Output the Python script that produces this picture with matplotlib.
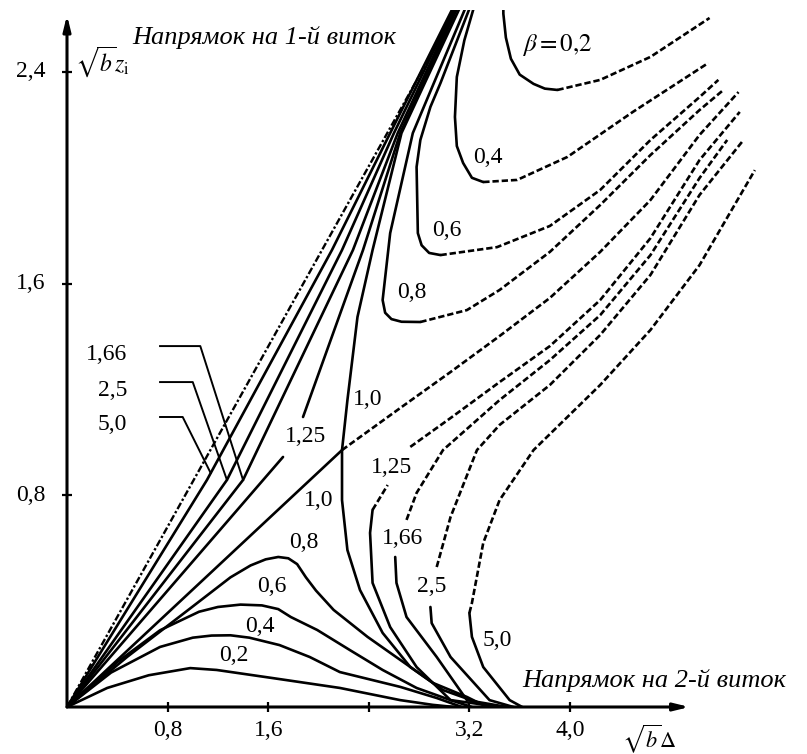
import matplotlib.pyplot as plt
import numpy as np

plt.rcParams['font.family'] = ['Liberation Serif', 'DejaVu Serif']
plt.rcParams['mathtext.fontset'] = 'stix'

# lower branches, beta < 1 (from the origin back to the sqrt(b)*Delta axis)
low_02 = [(0, 0), (0.32, 0.072), (0.65, 0.12), (0.98, 0.147), (1.19, 0.14), (1.64, 0.109),
          (2.17, 0.072), (2.65, 0.026), (2.91, 0.008), (3.08, 0)]
low_04 = [(0, 0), (0.35, 0.13), (0.74, 0.227), (1.0, 0.262), (1.15, 0.27), (1.3, 0.271),
          (1.45, 0.262), (1.69, 0.234), (1.93, 0.189), (2.17, 0.132), (2.65, 0.076),
          (2.94, 0.034), (3.14, 0)]
low_06 = [(0, 0), (0.4, 0.17), (0.74, 0.29), (1.05, 0.36), (1.2, 0.378), (1.38, 0.387),
          (1.55, 0.384), (1.68, 0.37), (1.78, 0.34), (1.99, 0.291), (2.25, 0.215),
          (2.51, 0.14), (2.78, 0.072), (3.05, 0.026), (3.22, 0)]
low_08 = [(0, 0), (0.48, 0.19), (1.0, 0.38), (1.3, 0.49), (1.46, 0.535), (1.58, 0.558),
          (1.68, 0.567), (1.76, 0.562), (1.83, 0.54), (1.9, 0.49), (1.98, 0.44), (2.12, 0.367),
          (2.39, 0.265), (2.65, 0.178), (2.91, 0.091), (3.18, 0.038), (3.34, 0)]

# upper branches, beta < 1: solid part from the top, dashed continuation
up_02 = [(3.47, 2.7), (3.47, 2.62), (3.49, 2.53), (3.53, 2.45), (3.6, 2.39), (3.71, 2.355),
         (3.8, 2.337), (3.9, 2.332)]
up_02d = [(3.9, 2.332), (4.24, 2.37), (4.64, 2.457), (5.11, 2.604)]
up_04 = [(3.27, 2.7), (3.16, 2.52), (3.1, 2.381), (3.085, 2.23), (3.1, 2.12), (3.15, 2.056),
         (3.22, 2.0), (3.31, 1.984)]
up_04d = [(3.31, 1.984), (3.58, 1.992), (3.98, 2.079), (4.5, 2.249), (5.1, 2.434)]
up_06 = [(3.25, 2.7), (2.97, 2.358), (2.89, 2.268), (2.81, 2.143), (2.78, 2.041),
         (2.79, 1.791), (2.82, 1.745), (2.88, 1.716), (2.97, 1.708)]
up_06d = [(2.97, 1.708), (3.42, 1.738), (3.84, 1.818), (4.24, 1.954), (4.64, 2.143),
          (5.03, 2.305), (5.18, 2.37)]
up_08 = [(3.22, 2.7), (2.75, 2.169), (2.57, 1.791), (2.51, 1.538), (2.53, 1.49), (2.58, 1.466),
         (2.66, 1.456), (2.81, 1.455)]
up_08d = [(2.81, 1.455), (3.18, 1.5), (3.44, 1.576), (3.84, 1.72), (4.24, 1.897), (4.64, 2.086),
          (5.03, 2.256), (5.22, 2.332)]

# beta = 1: straight line into the saddle, curve through it, dashed continuation
b10_line = [(0, 0), (2.187, 0.971)]
b10_dash = [(2.187, 0.971), (2.65, 1.13), (3.05, 1.266), (3.44, 1.402), (3.84, 1.546),
            (4.24, 1.72), (4.64, 1.916), (5.03, 2.162), (5.34, 2.324)]
b10_curve = [(3.18, 2.7), (2.66, 2.169), (2.43, 1.727), (2.31, 1.474), (2.23, 1.16), (2.187, 0.971),
             (2.187, 0.782), (2.23, 0.593), (2.33, 0.442), (2.51, 0.28), (2.73, 0.151),
             (2.99, 0.064), (3.28, 0.015), (3.4, 0)]

# beta > 1: upper-left branches from the origin
fan_125a = [(0, 0), (1.718, 0.945)]
fan_125b = [(1.877, 1.096), (2.354, 1.727), (2.65, 2.169), (3.16, 2.7)]
fan_166 = [(0, 0), (1.40, 0.858), (2.274, 1.727), (2.63, 2.169), (3.15, 2.7)]
fan_25 = [(0, 0), (1.272, 0.858), (2.187, 1.727), (2.6, 2.169), (3.14, 2.7)]
fan_50 = [(0, 0), (1.113, 0.858), (2.107, 1.727), (2.57, 2.169), (3.13, 2.7)]

# beta > 1: right branches rising from the axis
r125 = [(3.45, 0), (3.05, 0.026), (2.78, 0.151), (2.57, 0.302), (2.43, 0.469), (2.41, 0.658), (2.43, 0.745)]
r125d1 = [(2.43, 0.745), (2.55, 0.839)]
r125d2 = [(2.73, 0.983), (3.05, 1.092), (3.44, 1.228), (3.84, 1.364), (4.24, 1.538),
          (4.64, 1.772), (5.03, 2.067), (5.35, 2.249)]
r166 = [(3.5, 0), (3.18, 0.026), (2.94, 0.189), (2.7, 0.34), (2.62, 0.469), (2.61, 0.567)]
r166d = [(2.7, 0.707), (2.78, 0.809), (2.99, 0.971), (3.44, 1.16), (3.84, 1.311), (4.24, 1.481),
         (4.64, 1.708), (5.03, 1.999), (5.25, 2.143)]
r25 = [(3.55, 0), (3.36, 0.026), (3.05, 0.189), (2.9, 0.317), (2.89, 0.378)]
r25d = [(2.94, 0.529), (3.05, 0.718), (3.26, 0.971), (3.44, 1.066), (3.84, 1.217), (4.24, 1.406),
        (4.64, 1.633), (5.03, 1.935), (5.38, 2.143)]
r50 = [(3.62, 0), (3.52, 0.026), (3.31, 0.151), (3.22, 0.265), (3.2, 0.355)]
r50d = [(3.2, 0.355), (3.22, 0.393), (3.31, 0.62), (3.44, 0.782), (3.71, 0.971), (4.24, 1.217),
        (4.64, 1.425), (5.03, 1.67), (5.47, 2.029)]

# direction to the first turn
turn1 = [(0, 0), (3.1, 2.64)]

xticks = [0.8, 1.6, 2.4, 3.2, 4.0]
xtick_labels = ['0,8', '1,6', '', '3,2', '4,0']
yticks = [0.8, 1.6, 2.4]
ytick_labels = ['0,8', '1,6', '2,4']

fig = plt.figure(figsize=(8.07, 7.54), dpi=100)
# plotting area: origin at (67, 707) px, lines stop 10 px below the top edge
ax = fig.add_axes([67 / 807, 47 / 754, 740 / 807, 697 / 754])
ax.set_xlim(0, 740 / 125.75)
ax.set_ylim(0, 697 / 264.6)
ax.axis('off')

LW = 1.9
DASH = (0, (2.4, 1.1))


def draw(pts, dashed=False, lw=LW):
    a = np.array(pts, dtype=float)
    ax.plot(a[:, 0], a[:, 1], color='black', lw=lw,
            linestyle=DASH if dashed else '-', solid_capstyle='round',
            solid_joinstyle='round')


for c in [low_02, low_04, low_06, low_08, up_02, up_04, up_06, up_08,
          b10_line, b10_curve, fan_125a, fan_125b, fan_166, fan_25, fan_50,
          r125, r166, r25, r50]:
    draw(c)
for c in [up_02d, up_04d, up_06d, up_08d, b10_dash, r125d1, r125d2, r166d, r25d, r50d]:
    draw(c, dashed=True)

t = np.array(turn1)
ax.plot(t[:, 0], t[:, 1], color='black', lw=1.7, linestyle=(0, (3, 1, 1, 1)))

# axes with arrows
arrow = dict(arrowstyle='-|>,head_length=0.9,head_width=0.22', lw=2.2, color='black',
             shrinkA=0, shrinkB=0)
ax.annotate('', xy=(4.95, 0), xytext=(0, 0), annotation_clip=False, arrowprops=arrow)
ax.annotate('', xy=(0, 2.615), xytext=(0, 0), annotation_clip=False, arrowprops=arrow)
ax.plot(xticks, [0] * len(xticks), '|', color='black', ms=7, mew=1.6, clip_on=False)
ax.plot([0] * len(yticks), yticks, '_', color='black', ms=7, mew=1.6, clip_on=False)

fs = 17
for v, s in zip(xticks, xtick_labels):
    ax.text(v, -0.09, s, ha='center', va='center', fontsize=fs, clip_on=False)
for v, s in zip(yticks, ytick_labels):
    ax.text(-0.17, v, s, ha='right', va='center', fontsize=fs, clip_on=False)

ax.text(0.06, 2.44, r'$\sqrt{b}z_{\mathrm{i}}$', fontsize=17, ha='left', va='center')
ax.text(4.63, -0.118, r'$\sqrt{b}\Delta$', fontsize=16, ha='center', va='center', clip_on=False)
ax.text(0.52, 2.53, 'Напрямок на 1-й виток', fontsize=19, style='italic', ha='left', va='center')
ax.text(3.62, 0.10, 'Напрямок на 2-й виток', fontsize=19, style='italic', ha='left', va='center')

# curve labels
ax.text(3.9, 2.50, r'$\beta = 0{,}2$', fontsize=18, ha='center', va='center')
for x, y, s in [(3.35, 2.075, '0,4'), (3.02, 1.8, '0,6'), (2.74, 1.565, '0,8'),
                (2.39, 1.164, '1,0'), (2.0, 0.78, '1,0'), (1.9, 1.024, '1,25'),
                (2.58, 0.907, '1,25'), (2.67, 0.635, '1,66'), (2.9, 0.454, '2,5'),
                (3.42, 0.25, '5,0'), (1.33, 0.193, '0,2'), (1.53, 0.306, '0,4'),
                (1.63, 0.454, '0,6'), (1.885, 0.62, '0,8')]:
    ax.text(x, y, s, fontsize=fs, ha='center', va='center')


# callouts for the upper-left branches
def x_at(pts, y):
    a = np.array(pts, dtype=float)
    return np.interp(y, a[:, 1], a[:, 0])


for curve, ylab, s, xk, yend in [(fan_166, 1.364, '1,66', 1.06, 0.858),
                                 (fan_25, 1.228, '2,5', 1.0, 0.858),
                                 (fan_50, 1.096, '5,0', 0.92, 0.884)]:
    xe = x_at(curve, yend)
    ax.plot([0.74, xk, xe], [ylab, ylab, yend], color='black', lw=1.4)
    ax.text(0.48, ylab - 0.03, s, fontsize=fs, ha='right', va='center')

fig.savefig('out.png', dpi=100)
